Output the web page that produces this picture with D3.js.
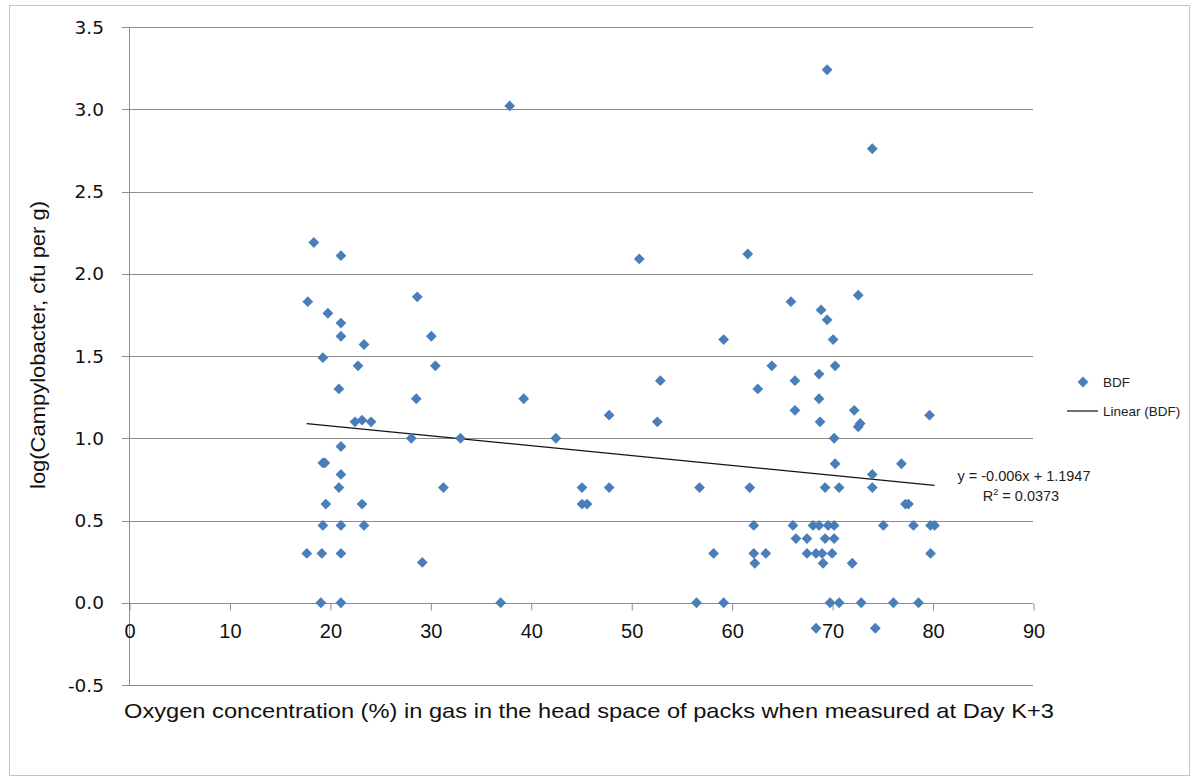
<!DOCTYPE html>
<html>
<head>
<meta charset="utf-8">
<script src="https://cdn.jsdelivr.net/npm/d3@7"></script>
<style>
  body { margin: 0; background: #ffffff; }
  svg { display: block; }
</style>
</head>
<body>
<svg id="chart" width="1195" height="781"></svg>
<script>
// Oxygen concentration (%) in pack head space at Day K+3
const oxygen = [
  17.8, 18.4, 17.7, 19.1, 19.2, 19.3, 19.3, 19.3, 19.5, 19.6, 19.8,
  21.1, 21.1, 21.1, 20.9, 21.1, 21.1, 20.9, 21.1, 21.1, 21.1,
  22.8, 23.4, 22.5, 23.2, 24.1, 23.2, 23.4,
  28.7, 30.1, 30.5, 28.6, 28.1, 33.0, 31.3, 29.2,
  37.9, 50.8, 59.2, 52.9, 39.3, 47.8, 52.6, 42.5, 45.1, 47.8, 56.8,
  45.1, 45.6, 58.2, 37.0, 56.5, 59.2,
  69.5, 74.0, 61.6, 65.9, 72.6, 68.9, 69.5, 70.1, 64.0, 70.3, 68.7,
  66.3, 62.6, 68.7, 66.3, 72.2, 68.8, 72.8, 72.6, 79.7, 70.2, 70.3,
  76.9, 74.0, 61.8, 69.3, 70.7, 74.0, 77.3, 77.6,
  62.2, 66.1, 68.1, 68.7, 69.6, 70.2, 75.1, 78.1, 79.8, 80.2,
  66.4, 67.5, 69.3, 70.2,
  62.2, 63.4, 67.5, 68.4, 69.0, 70.0, 79.8,
  62.3, 69.1, 72.0,
  69.8, 70.7, 72.9, 76.1, 78.6,
  68.4, 74.3
];

// log(Campylobacter, cfu per g) for each pack
const logCount = [
  1.83, 2.19, 0.30, 0.00, 0.30, 0.47, 1.49, 0.85, 0.85, 0.60, 1.76,
  2.11, 1.70, 1.62, 1.30, 0.95, 0.78, 0.70, 0.47, 0.30, 0.00,
  1.44, 1.57, 1.10, 1.11, 1.10, 0.60, 0.47,
  1.86, 1.62, 1.44, 1.24, 1.00, 1.00, 0.70, 0.245,
  3.02, 2.09, 1.60, 1.35, 1.24, 1.14, 1.10, 1.00, 0.70, 0.70, 0.70,
  0.60, 0.60, 0.30, 0.00, 0.00, 0.00,
  3.24, 2.76, 2.12, 1.83, 1.87, 1.78, 1.72, 1.60, 1.44, 1.44, 1.39,
  1.35, 1.30, 1.24, 1.17, 1.17, 1.10, 1.09, 1.07, 1.14, 1.00, 0.845,
  0.845, 0.78, 0.70, 0.70, 0.70, 0.70, 0.60, 0.60,
  0.47, 0.47, 0.47, 0.47, 0.47, 0.47, 0.47, 0.47, 0.47, 0.47,
  0.39, 0.39, 0.39, 0.39,
  0.30, 0.30, 0.30, 0.30, 0.30, 0.30, 0.30,
  0.24, 0.24, 0.24,
  0.00, 0.00, 0.00, 0.00, 0.00,
  -0.155, -0.155
];

const xTicks = [0, 10, 20, 30, 40, 50, 60, 70, 80, 90];
const yTicks = [-0.5, 0.0, 0.5, 1.0, 1.5, 2.0, 2.5, 3.0, 3.5];

// Linear trend fitted to the BDF series
const trendSlope = -0.006;
const trendIntercept = 1.1947;
const trendR2 = 0.0373;

const seriesName = "BDF";
const xTitle = "Oxygen concentration (%) in gas in the head space of packs when measured at Day K+3";
const yTitle = "log(Campylobacter, cfu per g)";

const points = oxygen.map((o, i) => ({ x: o, y: logCount[i] }));

const svg = d3.select("#chart");
const blue = "#4a7ebb";
const gridColor = "#8c8c8c";
const textFont = "'Liberation Sans', Arial, sans-serif";

// outer chart frame
svg.append("rect")
  .attr("x", 9.5).attr("y", 5.5)
  .attr("width", 1180).attr("height", 770)
  .attr("fill", "none").attr("stroke", "#c4c4c4");

const x = d3.scaleLinear().domain([0, 90]).range([129, 1033]);
const y = d3.scaleLinear().domain([-0.5, 3.5]).range([685, 27]);

// horizontal gridlines with short ticks to the left of the value axis
const grid = svg.append("g");
grid.selectAll("line.grid")
  .data(yTicks)
  .join("line")
  .attr("class", "grid")
  .attr("x1", x(0) - 7).attr("x2", x(90))
  .attr("y1", d => Math.round(y(d)) + 0.5)
  .attr("y2", d => Math.round(y(d)) + 0.5)
  .attr("stroke", gridColor).attr("stroke-width", 1);

// value axis line
svg.append("line")
  .attr("x1", Math.round(x(0)) + 0.5).attr("x2", Math.round(x(0)) + 0.5)
  .attr("y1", y(3.5)).attr("y2", y(-0.5))
  .attr("stroke", gridColor);

// category axis: ticks hang below the zero line
const xAxis = d3.axisBottom(x)
  .tickValues(xTicks)
  .tickSize(7)
  .tickSizeOuter(0)
  .tickPadding(8)
  .tickFormat(d3.format("d"));

const gx = svg.append("g")
  .attr("transform", `translate(0.5,${Math.round(y(0)) + 0.5})`)
  .call(xAxis);
gx.select(".domain").remove();
gx.selectAll(".tick line").attr("stroke", gridColor);
gx.selectAll(".tick text")
  .attr("fill", "#111")
  .attr("font-family", textFont)
  .attr("font-size", 20)
  .attr("y", 27)
  .attr("dy", "0.35em");

// value axis labels
svg.append("g")
  .selectAll("text")
  .data(yTicks)
  .join("text")
  .attr("x", 104)
  .attr("y", d => y(d))
  .attr("dy", "0.36em")
  .attr("text-anchor", "end")
  .attr("font-family", "'DejaVu Sans', Verdana, sans-serif")
  .attr("font-size", 18.5)
  .attr("fill", "#111")
  .text(d => d.toFixed(1));

// trendline across the range of the data
const xExt = d3.extent(oxygen);
const trend = d3.line().x(d => x(d)).y(d => y(trendSlope * d + trendIntercept));
svg.append("path")
  .attr("d", trend(xExt))
  .attr("fill", "none")
  .attr("stroke", "#111")
  .attr("stroke-width", 1.2);

// diamond markers
const diamond = "M0,-5.4L5.4,0L0,5.4L-5.4,0Z";
svg.append("g")
  .selectAll("path")
  .data(points)
  .join("path")
  .attr("d", diamond)
  .attr("transform", d => `translate(${x(d.x)},${y(d.y)})`)
  .attr("fill", blue);

// trendline equation
const eq = svg.append("g")
  .attr("font-family", textFont)
  .attr("font-size", 14.5)
  .attr("fill", "#222")
  .attr("text-anchor", "middle");
eq.append("text")
  .attr("x", 1024).attr("y", 481)
  .text(`y = ${trendSlope}x + ${trendIntercept}`);
const r2 = eq.append("text").attr("x", 1021).attr("y", 501);
r2.append("tspan").text("R");
r2.append("tspan").attr("font-size", 9).attr("dy", -6).text("2");
r2.append("tspan").attr("dy", 6).text(` = ${trendR2}`);

// legend
const legend = svg.append("g")
  .attr("font-family", textFont)
  .attr("font-size", 13.5)
  .attr("fill", "#222");
legend.append("path")
  .attr("d", diamond)
  .attr("transform", "translate(1083,382)")
  .attr("fill", blue);
legend.append("text")
  .attr("x", 1103).attr("y", 382).attr("dy", "0.35em")
  .text(seriesName);
legend.append("line")
  .attr("x1", 1067).attr("x2", 1098)
  .attr("y1", 411).attr("y2", 411)
  .attr("stroke", "#111").attr("stroke-width", 1.2);
legend.append("text")
  .attr("x", 1103).attr("y", 411).attr("dy", "0.35em")
  .text(`Linear (${seriesName})`);

// axis titles
svg.append("text")
  .attr("x", 589).attr("y", 711)
  .attr("dy", "0.35em")
  .attr("text-anchor", "middle")
  .attr("font-family", textFont)
  .attr("font-size", 21)
  .attr("fill", "#111")
  .attr("textLength", 930)
  .attr("lengthAdjust", "spacingAndGlyphs")
  .text(xTitle);

svg.append("text")
  .attr("transform", "translate(38,345) rotate(-90)")
  .attr("dy", "0.35em")
  .attr("text-anchor", "middle")
  .attr("font-family", textFont)
  .attr("font-size", 20)
  .attr("fill", "#111")
  .attr("textLength", 288)
  .attr("lengthAdjust", "spacingAndGlyphs")
  .text(yTitle);
</script>
</body>
</html>
